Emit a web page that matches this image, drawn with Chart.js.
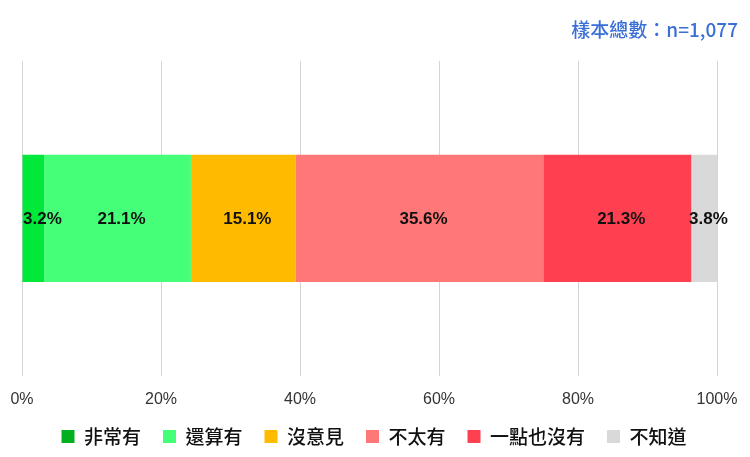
<!DOCTYPE html>
<html><head><meta charset="utf-8">
<script src="https://cdn.jsdelivr.net/npm/chart.js@4"></script>
<style>html,body{margin:0;padding:0;background:#fff}#w{width:750px;height:457px}</style>
</head><body><div id="w"><canvas id="c"></canvas></div>
<script>
const categories = ["整體"];
const seriesNames = ["非常有","還算有","沒意見","不太有","一點也沒有","不知道"];
const seriesValues = [3.2, 21.1, 15.1, 35.6, 21.3, 3.8];
const seriesColors = ["#00E83A","#44FF77","#FFBB00","#FF7777","#FF4050","#D9D9D9"];
const legendColors = ["#00B020","#44FF77","#FFBB00","#FF7777","#FF4050","#D9D9D9"];
const tickValues = [0,20,40,60,80,100];
const sampleText = "樣本總數：n=1,077";
const FONT = '"Liberation Sans", "Noto Sans CJK TC", sans-serif';
const CJK = '"Noto Sans CJK TC", "Liberation Sans", sans-serif';

const labelPlugin = {
  id:'inlineLabels',
  afterDatasetsDraw(chart){
    const ctx = chart.ctx;
    ctx.save();
    ctx.font = 'bold 17px ' + FONT;
    ctx.fillStyle = '#111';
    ctx.textAlign = 'center';
    ctx.textBaseline = 'middle';
    chart.data.datasets.forEach((ds,i)=>{
      const meta = chart.getDatasetMeta(i);
      meta.data.forEach((bar,j)=>{
        const p = bar.getProps(['x','y','base'],true);
        const txt = ds.data[j].toFixed(1)+'%';
        const w = ctx.measureText(txt).width;
        let cx = (p.x+p.base)/2 + 4;
        cx = Math.max(cx, chart.chartArea.left + 1 + w/2);
        ctx.fillText(txt, cx, p.y + 1);
      });
    });
    ctx.restore();
  }
};

new Chart(document.getElementById('c'), {
  type:'bar',
  data:{
    labels: categories,
    datasets: seriesNames.map((n,i)=>({
      label:n, data:[seriesValues[i]], backgroundColor:seriesColors[i],
      borderWidth:0, barPercentage:0.404, categoryPercentage:1
    }))
  },
  options:{
    indexAxis:'y', responsive:true, maintainAspectRatio:false, animation:false,
    layout:{padding:{left:10,right:12,top:0,bottom:1}},
    scales:{
      x:{stacked:true, min:0, max:100,
        afterBuildTicks(s){ s.ticks = tickValues.map(v=>({value:v})); },
        afterFit(s){ s.height = 29; s.paddingLeft = 22; s.paddingRight = 33; },
        ticks:{callback:v=>v+'%', color:'#333', font:{family:FONT,size:16}, padding:14},
        grid:{color:'#d4d4d4', drawTicks:false},
        border:{display:false}
      },
      y:{stacked:true, display:false}
    },
    plugins:{
      title:{display:true, text:sampleText, align:'end', color:'#3A6FD8',
        font:{family:CJK,size:19,weight:'500'}, padding:{top:18,bottom:20}},
      legend:{position:'bottom',
        labels:{boxWidth:13, boxHeight:13, color:'#111', font:{family:CJK,size:19,weight:'500'}, padding:22,
          generateLabels(chart){
            return chart.data.datasets.map((ds,i)=>({text:ds.label, fillStyle:legendColors[i], strokeStyle:legendColors[i], lineWidth:0, datasetIndex:i, fontColor:'#111'}));
          }}},
      tooltip:{enabled:false}
    }
  },
  plugins:[labelPlugin]
});
</script></body></html>
